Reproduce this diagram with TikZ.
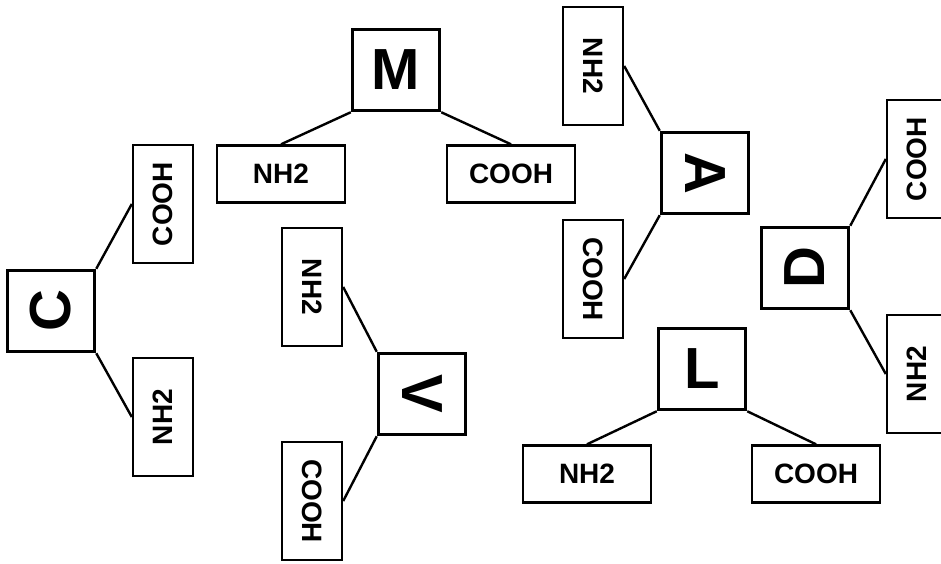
\documentclass[tikz,border=0pt]{standalone}
\usepackage{fontspec}
\setmainfont{Liberation Sans}
\usepackage{tikz}

\begin{document}
\begin{tikzpicture}[x=1pt, y=-1pt,
    amino/.style={shape=rectangle, draw=black, line width=3.5pt, minimum width=87pt, minimum height=81pt, inner sep=0pt, font=\bfseries\fontsize{58}{58}\selectfont},
    grp/.style={shape=rectangle, draw=black, line width=2.4pt, minimum width=128pt, minimum height=57pt, inner sep=0pt, font=\bfseries\fontsize{28}{28}\selectfont},
    vgrp/.style={grp, minimum width=60pt, minimum height=118pt},
    bond/.style={line width=2.4pt}]
    \useasboundingbox (0,0) rectangle (941,564);
    
    % M
    \node[amino] (m) at (396, 70)   {M};
    \node[grp] (mnh) at (281, 174)  {NH2};
    \node[grp] (mco) at (511, 174)  {COOH};
    
    % C
    \node[amino] (c) at (51, 311)   {\rotatebox{90}{C}};
    \node[vgrp] (cco) at (163, 204) {\rotatebox{90}{COOH}};
    \node[vgrp] (cnh) at (163, 417) {\rotatebox{90}{NH2}};
    
    % V
    \node[amino] (v) at (422, 394)  {\rotatebox{-90}{V}};
    \node[vgrp] (vnh) at (312, 287) {\rotatebox{-90}{NH2}};
    \node[vgrp] (vco) at (312, 501) {\rotatebox{-90}{COOH}};
    
    % A
    \node[amino] (a) at (705, 173)  {\rotatebox{-90}{A}};
    \node[vgrp] (anh) at (593, 66)  {\rotatebox{-90}{NH2}};
    \node[vgrp] (aco) at (593, 279) {\rotatebox{-90}{COOH}};
    
    % D
    \node[amino] (d) at (805, 268)  {\rotatebox{90}{D}};
    \node[vgrp] (dco) at (917, 159) {\rotatebox{90}{COOH}};
    \node[vgrp] (dnh) at (917, 374) {\rotatebox{90}{NH2}};
    
    % L
    \node[amino] (l) at (702, 369)  {L};
    \node[grp] (lnh) at (587, 474)  {NH2};
    \node[grp] (lco) at (816, 474)  {COOH};
    
    \path[bond] (m.south west) edge (mnh.north);
    \path[bond] (m.south east) edge (mco.north);
    \path[bond] (c.north east) edge (cco.west);
    \path[bond] (c.south east) edge (cnh.west);
    \path[bond] (v.north west) edge (vnh.east);
    \path[bond] (v.south west) edge (vco.east);
    \path[bond] (a.north west) edge (anh.east);
    \path[bond] (a.south west) edge (aco.east);
    \path[bond] (d.north east) edge (dco.west);
    \path[bond] (d.south east) edge (dnh.west);
    \path[bond] (l.south west) edge (lnh.north);
    \path[bond] (l.south east) edge (lco.north);
    
\end{tikzpicture}
\end{document}
